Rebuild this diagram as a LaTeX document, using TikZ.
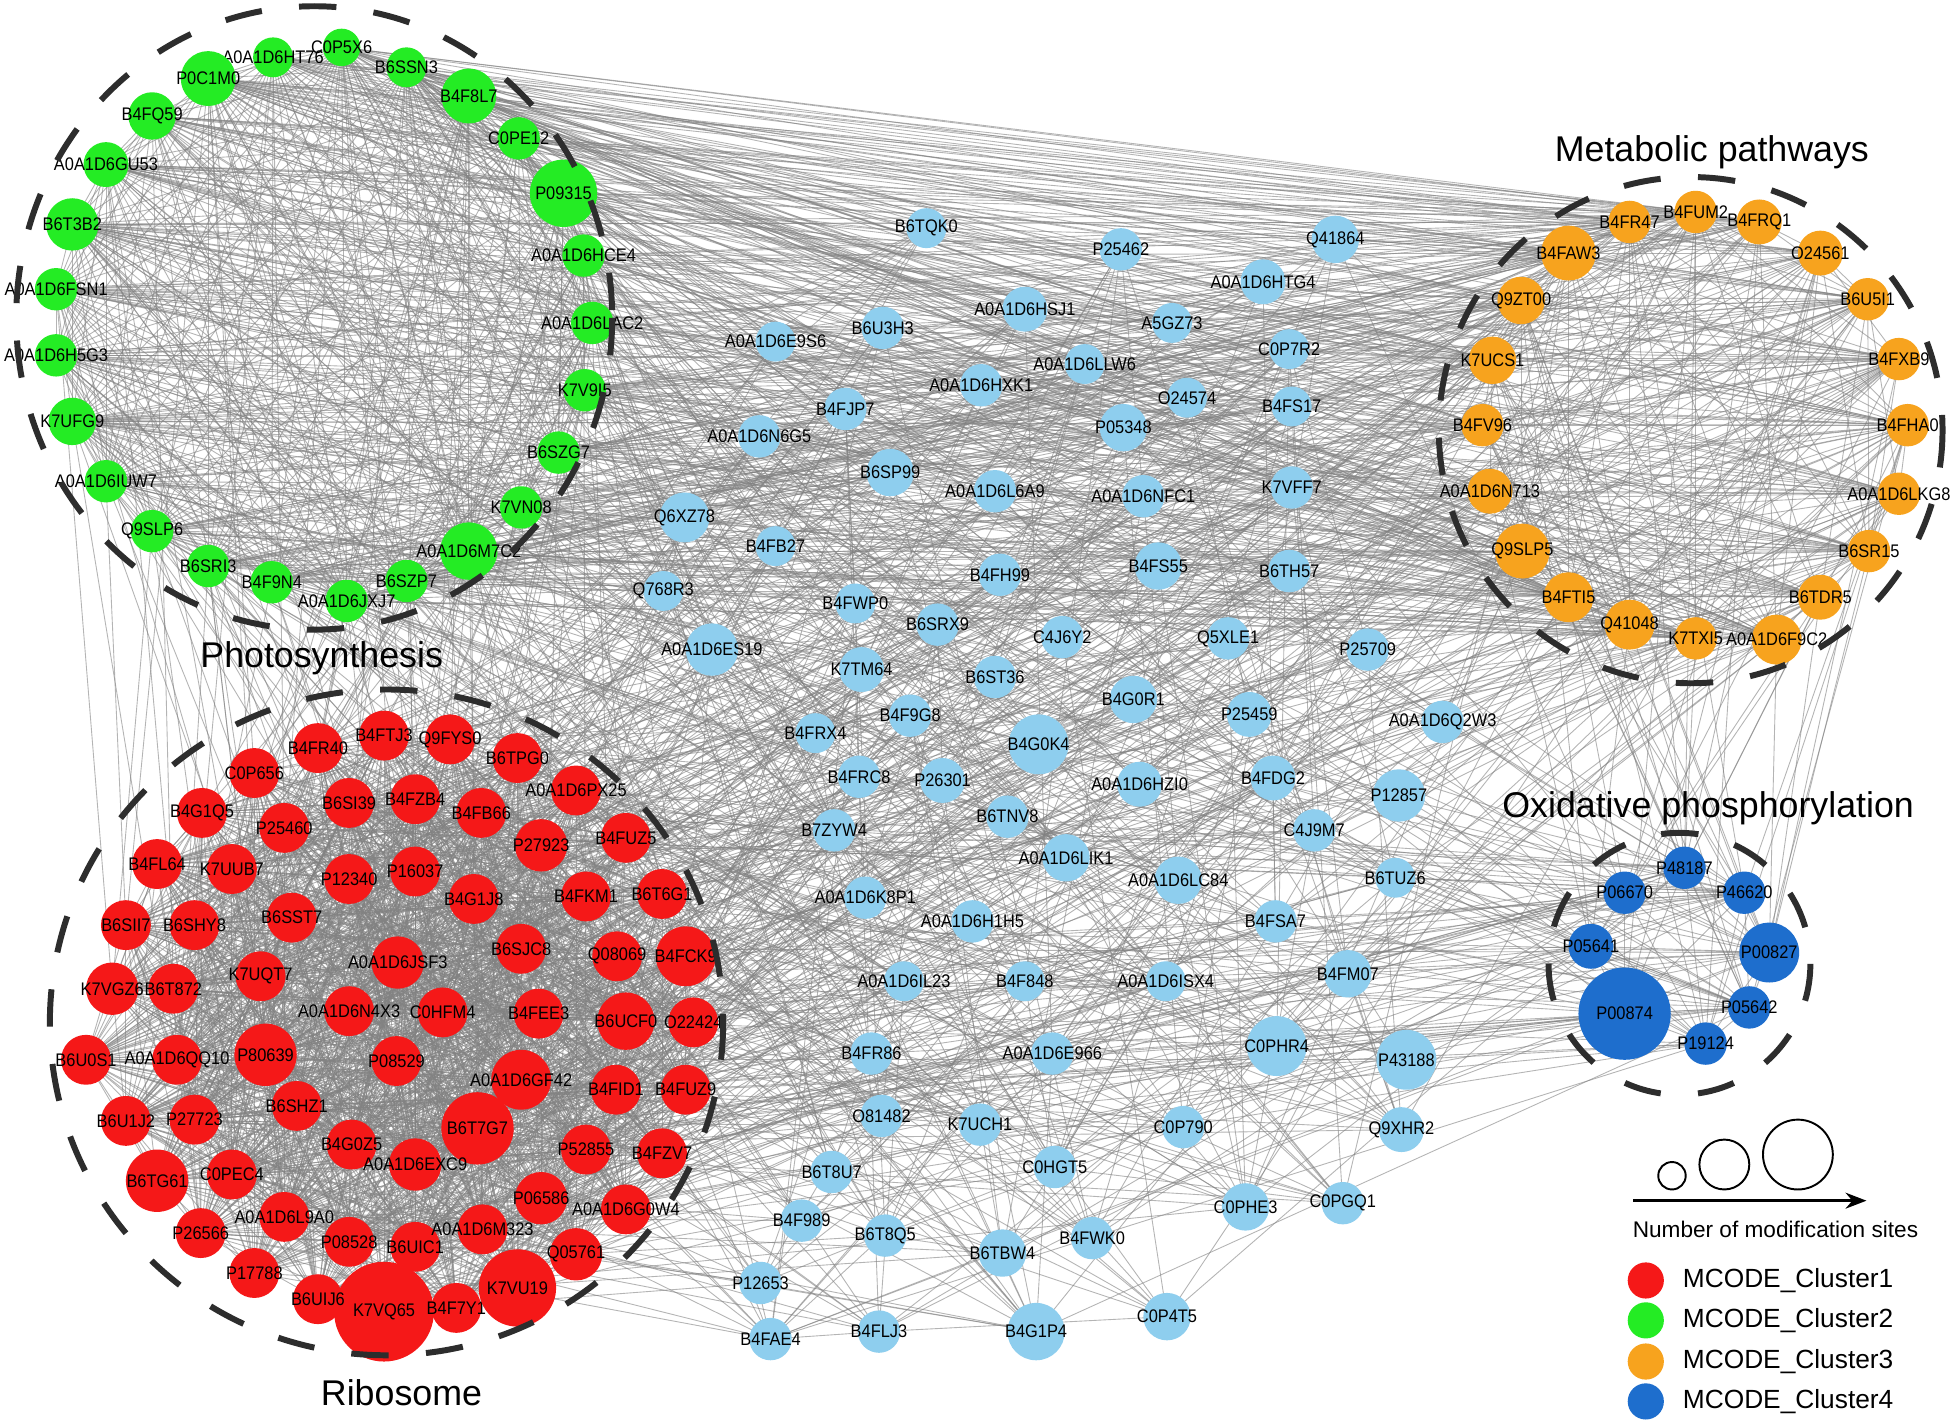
\documentclass[tikz,border=0pt]{standalone}
\usepackage{fontspec}
\setmainfont{Liberation Sans}
\newfontfamily\lblfont[FakeStretch=0.9]{Liberation Sans}
\usetikzlibrary{arrows.meta,backgrounds,positioning}
\definecolor{clred}{RGB}{245,24,24}
\definecolor{clgreen}{RGB}{36,236,36}
\definecolor{clorange}{RGB}{247,163,30}
\definecolor{clblue}{RGB}{30,110,205}
\definecolor{clsky}{RGB}{142,206,238}
\definecolor{ppigray}{RGB}{130,130,130}
\definecolor{ringgray}{RGB}{45,45,45}
\tikzset{%
	prot/.style      = {circle, inner sep=0pt, font=\lblfont\fontsize{10.4}{10.4}\selectfont,
	                    execute at begin node={\hbox to 0pt\bgroup\hss},
	                    execute at end node={\hss\egroup}}, % protein, label may overhang
	gnode/.style     = {prot, fill=clgreen, minimum size=#1*0.05cm}, % Cluster2
	gnode/.default   = 17,
	rnode/.style     = {prot, fill=clred, minimum size=#1*0.05cm}, % Cluster1
	rnode/.default   = 20,
	onode/.style     = {prot, fill=clorange, minimum size=#1*0.05cm}, % Cluster3
	onode/.default   = 18,
	bnode/.style     = {prot, fill=clblue, minimum size=#1*0.05cm}, % Cluster4
	bnode/.default   = 17,
	snode/.style     = {prot, fill=clsky, minimum size=#1*0.05cm}, % no cluster
	snode/.default   = 17,
}
\tikzset{%
	ppiedge/.style   = {draw=ppigray, line width=0.5pt, opacity=0.6},
	ring/.style      = {draw=ringgray, line width=3.4pt, dash pattern=on 0.75cm off 0.75cm},
	pathtitle/.style = {font=\fontsize{20.4}{22}\selectfont},
	sizecirc/.style  = {circle, draw=black, line width=1.1pt, inner sep=0pt, minimum size=#1*0.05cm},
	sizearrow/.style = {line width=1.4pt, -{Stealth[length=0.42cm, width=0.32cm]}},
	sizetext/.style  = {font=\fontsize{12.9}{14}\selectfont},
	legdot/.style    = {circle, inner sep=0pt, minimum size=1.45cm*0.5},
	legtext/.style   = {font=\fontsize{15}{17}\selectfont, anchor=west},
}
\newcommand\maybelink[3]{\pgfmathparse{rnd}\ifdim\pgfmathresult pt<#3pt\relax\draw[ppiedge] (#1.center) -- (#2.center);\fi}
\newcommand\linkwithin[2]{\foreach \a [count=\i] in #1 {\foreach \b [count=\j] in #1 {\ifnum\j>\i\relax\maybelink{\a}{\b}{#2}\fi}}}
\newcommand\linkbetween[3]{\foreach \a in #1 {\foreach \b in #2 {\maybelink{\a}{\b}{#3}}}}
\def\greenlist{C0P5X6,A0A1D6HT76,B6SSN3,P0C1M0,B4F8L7,B4FQ59,C0PE12,A0A1D6GU53,P09315,B6T3B2,A0A1D6HCE4,A0A1D6FSN1,A0A1D6LAC2,A0A1D6H5G3,K7V9I5,K7UFG9,B6SZG7,A0A1D6IUW7,K7VN08,Q9SLP6,A0A1D6M7C2,B6SRI3,B6SZP7,B4F9N4,A0A1D6JXJ7}
\def\redlist{B4FR40,B4FTJ3,Q9FYS0,B6TPG0,C0P656,A0A1D6PX25,B6SI39,B4FZB4,B4FB66,B4G1Q5,P25460,P27923,B4FUZ5,B4FL64,K7UUB7,P12340,P16037,B4G1J8,B4FKM1,B6T6G1,B6SII7,B6SHY8,B6SST7,B6SJC8,Q08069,B4FCK9,A0A1D6JSF3,K7VGZ6,B6T872,K7UQT7,A0A1D6N4X3,C0HFM4,B4FEE3,B6UCF0,O22424,B6U0S1,A0A1D6QQ10,P80639,P08529,A0A1D6GF42,B4FID1,B4FUZ9,B6U1J2,P27723,B6SHZ1,B6T7G7,B4G0Z5,A0A1D6EXC9,P52855,B4FZV7,B6TG61,C0PEC4,P06586,A0A1D6G0W4,A0A1D6L9A0,P26566,P08528,B6UIC1,A0A1D6M323,Q05761,P17788,B6UIJ6,K7VQ65,B4F7Y1,K7VU19}
\def\orangelist{B4FUM2,B4FR47,B4FRQ1,B4FAW3,O24561,Q9ZT00,B6U5I1,K7UCS1,B4FXB9,B4FV96,B4FHA0,A0A1D6N713,A0A1D6LKG8,Q9SLP5,B6SR15,B4FTI5,B6TDR5,Q41048,K7TXI5,A0A1D6F9C2}
\def\bluelist{P48187,P06670,P46620,P05641,P00827,P00874,P05642,P19124}
\def\midlist{B6TQK0,P25462,Q41864,A0A1D6HTG4,A0A1D6HSJ1,B6U3H3,A5GZ73,A0A1D6E9S6,C0P7R2,A0A1D6LLW6,A0A1D6HXK1,O24574,B4FS17,B4FJP7,P05348,A0A1D6N6G5,B6SP99,A0A1D6L6A9,A0A1D6NFC1,K7VFF7,Q6XZ78,B4FB27,B4FH99,B4FS55,B6TH57,Q768R3,B4FWP0,B6SRX9,C4J6Y2,Q5XLE1,P25709,A0A1D6ES19,K7TM64,B6ST36,B4G0R1,P25459,A0A1D6Q2W3,B4FRX4,B4F9G8,B4G0K4,B4FRC8,P26301,A0A1D6HZI0,B4FDG2,P12857,B6TNV8,B7ZYW4,C4J9M7,A0A1D6LIK1,A0A1D6LC84,B6TUZ6,A0A1D6K8P1,A0A1D6H1H5,B4FSA7,B4FM07,A0A1D6IL23,B4F848,A0A1D6ISX4,C0PHR4,P43188,B4FR86,A0A1D6E966,O81482,K7UCH1,C0P790,Q9XHR2,C0HGT5,B6T8U7,C0PHE3,C0PGQ1,B4F989,B6T8Q5,B4FWK0,B6TBW4,P12653,C0P4T5,B4FAE4,B4FLJ3,B4G1P4}

\begin{document}
\begin{tikzpicture}[x=0.025cm, y=-0.025cm]
	\useasboundingbox (0,0) rectangle (1568,1143);
	% Photosynthesis
	\node[gnode=15] (C0P5X6) at (274,38) {C0P5X6};
	\node[gnode=16] (A0A1D6HT76) at (219,46) {A0A1D6HT76};
	\node[gnode=16] (B6SSN3) at (326,54) {B6SSN3};
	\node[gnode=22] (P0C1M0) at (167,63) {P0C1M0};
	\node[gnode=22] (B4F8L7) at (376,77) {B4F8L7};
	\node[gnode=19] (B4FQ59) at (122,93) {B4FQ59};
	\node[gnode] (C0PE12) at (416,111) {C0PE12};
	\node[gnode=18] (A0A1D6GU53) at (85,132) {A0A1D6GU53};
	\node[gnode=27] (P09315) at (452,155) {P09315};
	\node[gnode=21] (B6T3B2) at (58,180) {B6T3B2};
	\node[gnode] (A0A1D6HCE4) at (468,205) {A0A1D6HCE4};
	\node[gnode] (A0A1D6FSN1) at (45,232) {A0A1D6FSN1};
	\node[gnode] (A0A1D6LAC2) at (475,259) {A0A1D6LAC2};
	\node[gnode] (A0A1D6H5G3) at (45,285) {A0A1D6H5G3};
	\node[gnode] (K7V9I5) at (469,313) {K7V9I5};
	\node[gnode=19] (K7UFG9) at (58,338) {K7UFG9};
	\node[gnode] (B6SZG7) at (448,363) {B6SZG7};
	\node[gnode] (A0A1D6IUW7) at (85,386) {A0A1D6IUW7};
	\node[gnode] (K7VN08) at (418,407) {K7VN08};
	\node[gnode] (Q9SLP6) at (122,426) {Q9SLP6};
	\node[gnode=23] (A0A1D6M7C2) at (376,442) {A0A1D6M7C2};
	\node[gnode] (B6SRI3) at (167,454) {B6SRI3};
	\node[gnode] (B6SZP7) at (326,466) {B6SZP7};
	\node[gnode] (B4F9N4) at (218,467) {B4F9N4};
	\node[gnode] (A0A1D6JXJ7) at (278,482) {A0A1D6JXJ7};
	
	% Ribosome
	\node[rnode] (B4FR40) at (255,600) {B4FR40};
	\node[rnode] (B4FTJ3) at (308,590) {B4FTJ3};
	\node[rnode] (Q9FYS0) at (361,593) {Q9FYS0};
	\node[rnode] (B6TPG0) at (415,608) {B6TPG0};
	\node[rnode] (C0P656) at (204,620) {C0P656};
	\node[rnode] (A0A1D6PX25) at (462,634) {A0A1D6PX25};
	\node[rnode] (B6SI39) at (280,644) {B6SI39};
	\node[rnode] (B4FZB4) at (333,641) {B4FZB4};
	\node[rnode] (B4FB66) at (386,652) {B4FB66};
	\node[rnode] (B4G1Q5) at (162,652) {B4G1Q5};
	\node[rnode] (P25460) at (228,664) {P25460};
	\node[rnode=21] (P27923) at (434,678) {P27923};
	\node[rnode] (B4FUZ5) at (502,672) {B4FUZ5};
	\node[rnode] (B4FL64) at (126,693) {B4FL64};
	\node[rnode] (K7UUB7) at (186,697) {K7UUB7};
	\node[rnode] (P12340) at (280,705) {P12340};
	\node[rnode] (P16037) at (333,699) {P16037};
	\node[rnode] (B4G1J8) at (380,721) {B4G1J8};
	\node[rnode] (B4FKM1) at (470,719) {B4FKM1};
	\node[rnode] (B6T6G1) at (531,717) {B6T6G1};
	\node[rnode] (B6SII7) at (101,742) {B6SII7};
	\node[rnode] (B6SHY8) at (156,742) {B6SHY8};
	\node[rnode] (B6SST7) at (234,736) {B6SST7};
	\node[rnode] (B6SJC8) at (418,761) {B6SJC8};
	\node[rnode] (Q08069) at (495,767) {Q08069};
	\node[rnode=24] (B4FCK9) at (550,767) {B4FCK9};
	\node[rnode=21] (A0A1D6JSF3) at (319,772) {A0A1D6JSF3};
	\node[rnode=21] (K7VGZ6) at (90,793) {K7VGZ6};
	\node[rnode] (B6T872) at (139,793) {B6T872};
	\node[rnode] (K7UQT7) at (209,783) {K7UQT7};
	\node[rnode] (A0A1D6N4X3) at (280,811) {A0A1D6N4X3};
	\node[rnode] (C0HFM4) at (355,812) {C0HFM4};
	\node[rnode] (B4FEE3) at (432,813) {B4FEE3};
	\node[rnode=23] (B6UCF0) at (502,819) {B6UCF0};
	\node[rnode] (O22424) at (556,820) {O22424};
	\node[rnode] (B6U0S1) at (69,850) {B6U0S1};
	\node[rnode] (A0A1D6QQ10) at (142,850) {A0A1D6QQ10};
	\node[rnode=25] (P80639) at (213,846) {P80639};
	\node[rnode] (P08529) at (318,851) {P08529};
	\node[rnode=24] (A0A1D6GF42) at (418,866) {A0A1D6GF42};
	\node[rnode] (B4FID1) at (494,874) {B4FID1};
	\node[rnode] (B4FUZ9) at (550,874) {B4FUZ9};
	\node[rnode] (B6U1J2) at (101,899) {B6U1J2};
	\node[rnode] (P27723) at (156,898) {P27723};
	\node[rnode] (B6SHZ1) at (238,887) {B6SHZ1};
	\node[rnode=29] (B6T7G7) at (383,905) {B6T7G7};
	\node[rnode] (B4G0Z5) at (282,918) {B4G0Z5};
	\node[rnode=21] (A0A1D6EXC9) at (333,934) {A0A1D6EXC9};
	\node[rnode] (P52855) at (470,922) {P52855};
	\node[rnode] (B4FZV7) at (531,925) {B4FZV7};
	\node[rnode=25] (B6TG61) at (126,947) {B6TG61};
	\node[rnode] (C0PEC4) at (186,942) {C0PEC4};
	\node[rnode=21] (P06586) at (434,961) {P06586};
	\node[rnode] (A0A1D6G0W4) at (502,970) {A0A1D6G0W4};
	\node[rnode] (A0A1D6L9A0) at (228,976) {A0A1D6L9A0};
	\node[rnode] (P26566) at (161,989) {P26566};
	\node[rnode] (P08528) at (280,996) {P08528};
	\node[rnode] (B6UIC1) at (333,1000) {B6UIC1};
	\node[rnode] (A0A1D6M323) at (387,986) {A0A1D6M323};
	\node[rnode=21] (Q05761) at (462,1006) {Q05761};
	\node[rnode] (P17788) at (204,1021) {P17788};
	\node[rnode=40] (K7VQ65) at (308,1052) {K7VQ65};
	\node[rnode] (B6UIJ6) at (255,1042) {B6UIJ6};
	\node[rnode] (B4F7Y1) at (366,1049) {B4F7Y1};
	\node[rnode=31] (K7VU19) at (415,1033) {K7VU19};
	
	% Metabolic pathways
	\node[onode=17] (B4FUM2) at (1360,170) {B4FUM2};
	\node[onode=17] (B4FR47) at (1307,178) {B4FR47};
	\node[onode] (B4FRQ1) at (1411,178) {B4FRQ1};
	\node[onode=22] (B4FAW3) at (1258,203) {B4FAW3};
	\node[onode] (O24561) at (1460,203) {O24561};
	\node[onode=19] (Q9ZT00) at (1220,241) {Q9ZT00};
	\node[onode=17] (B6U5I1) at (1498,240) {B6U5I1};
	\node[onode=19] (K7UCS1) at (1197,289) {K7UCS1};
	\node[onode=17] (B4FXB9) at (1523,288) {B4FXB9};
	\node[onode=17] (B4FV96) at (1189,341) {B4FV96};
	\node[onode=17] (B4FHA0) at (1530,341) {B4FHA0};
	\node[onode] (A0A1D6N713) at (1195,394) {A0A1D6N713};
	\node[onode=17] (A0A1D6LKG8) at (1523,396) {A0A1D6LKG8};
	\node[onode=22] (Q9SLP5) at (1221,442) {Q9SLP5};
	\node[onode=17] (B6SR15) at (1499,442) {B6SR15};
	\node[onode=20] (B4FTI5) at (1258,479) {B4FTI5};
	\node[onode] (B6TDR5) at (1460,479) {B6TDR5};
	\node[onode=20] (Q41048) at (1307,501) {Q41048};
	\node[onode=17] (K7TXI5) at (1360,512) {K7TXI5};
	\node[onode=20] (A0A1D6F9C2) at (1425,513) {A0A1D6F9C2};
	
	% Oxidative phosphorylation
	\node[bnode] (P48187) at (1351,696) {P48187};
	\node[bnode] (P06670) at (1303,716) {P06670};
	\node[bnode] (P46620) at (1399,716) {P46620};
	\node[bnode=18] (P05641) at (1276,759) {P05641};
	\node[bnode=24] (P00827) at (1419,764) {P00827};
	\node[bnode=37] (P00874) at (1303,813) {P00874};
	\node[bnode] (P05642) at (1403,808) {P05642};
	\node[bnode] (P19124) at (1368,837) {P19124};
	
	% other proteins
	\node[snode=16] (B6TQK0) at (743,183) {B6TQK0};
	\node[snode] (P25462) at (899,200) {P25462};
	\node[snode=19] (Q41864) at (1071,192) {Q41864};
	\node[snode=18] (A0A1D6HTG4) at (1013,226) {A0A1D6HTG4};
	\node[snode=18] (A0A1D6HSJ1) at (822,248) {A0A1D6HSJ1};
	\node[snode] (B6U3H3) at (708,263) {B6U3H3};
	\node[snode=16] (A5GZ73) at (940,259) {A5GZ73};
	\node[snode=16] (A0A1D6E9S6) at (622,274) {A0A1D6E9S6};
	\node[snode=16] (C0P7R2) at (1034,280) {C0P7R2};
	\node[snode=16] (A0A1D6LLW6) at (870,292) {A0A1D6LLW6};
	\node[snode] (A0A1D6HXK1) at (787,309) {A0A1D6HXK1};
	\node[snode=16] (O24574) at (952,319) {O24574};
	\node[snode=16] (B4FS17) at (1036,326) {B4FS17};
	\node[snode] (B4FJP7) at (678,328) {B4FJP7};
	\node[snode=19] (P05348) at (901,343) {P05348};
	\node[snode] (A0A1D6N6G5) at (609,350) {A0A1D6N6G5};
	\node[snode=19] (B6SP99) at (714,379) {B6SP99};
	\node[snode] (A0A1D6L6A9) at (798,394) {A0A1D6L6A9};
	\node[snode] (A0A1D6NFC1) at (917,398) {A0A1D6NFC1};
	\node[snode] (K7VFF7) at (1036,391) {K7VFF7};
	\node[snode=20] (Q6XZ78) at (549,415) {Q6XZ78};
	\node[snode=16] (B4FB27) at (622,438) {B4FB27};
	\node[snode] (B4FH99) at (802,461) {B4FH99};
	\node[snode=19] (B4FS55) at (929,454) {B4FS55};
	\node[snode] (B6TH57) at (1034,458) {B6TH57};
	\node[snode=16] (Q768R3) at (532,474) {Q768R3};
	\node[snode=16] (B4FWP0) at (686,484) {B4FWP0};
	\node[snode] (B6SRX9) at (752,501) {B6SRX9};
	\node[snode] (C4J6Y2) at (852,511) {C4J6Y2};
	\node[snode] (Q5XLE1) at (985,512) {Q5XLE1};
	\node[snode] (P25709) at (1097,521) {P25709};
	\node[snode=21] (A0A1D6ES19) at (571,521) {A0A1D6ES19};
	\node[snode=18] (K7TM64) at (691,537) {K7TM64};
	\node[snode] (B6ST36) at (798,543) {B6ST36};
	\node[snode=19] (B4G0R1) at (909,561) {B4G0R1};
	\node[snode=18] (P25459) at (1002,573) {P25459};
	\node[snode] (A0A1D6Q2W3) at (1157,579) {A0A1D6Q2W3};
	\node[snode=16] (B4FRX4) at (654,588) {B4FRX4};
	\node[snode] (B4F9G8) at (730,574) {B4F9G8};
	\node[snode=24] (B4G0K4) at (833,597) {B4G0K4};
	\node[snode] (B4FRC8) at (689,623) {B4FRC8};
	\node[snode=18] (P26301) at (756,626) {P26301};
	\node[snode=18] (A0A1D6HZI0) at (914,629) {A0A1D6HZI0};
	\node[snode=18] (B4FDG2) at (1021,624) {B4FDG2};
	\node[snode=21] (P12857) at (1122,638) {P12857};
	\node[snode] (B6TNV8) at (808,655) {B6TNV8};
	\node[snode] (B7ZYW4) at (669,666) {B7ZYW4};
	\node[snode] (C4J9M7) at (1054,666) {C4J9M7};
	\node[snode=19] (A0A1D6LIK1) at (855,688) {A0A1D6LIK1};
	\node[snode=19] (A0A1D6LC84) at (945,706) {A0A1D6LC84};
	\node[snode=16] (B6TUZ6) at (1119,704) {B6TUZ6};
	\node[snode] (A0A1D6K8P1) at (694,720) {A0A1D6K8P1};
	\node[snode] (A0A1D6H1H5) at (780,739) {A0A1D6H1H5};
	\node[snode] (B4FSA7) at (1023,739) {B4FSA7};
	\node[snode=19] (B4FM07) at (1081,781) {B4FM07};
	\node[snode=16] (A0A1D6IL23) at (725,787) {A0A1D6IL23};
	\node[snode=16] (B4F848) at (822,787) {B4F848};
	\node[snode=16] (A0A1D6ISX4) at (935,787) {A0A1D6ISX4};
	\node[snode=24] (C0PHR4) at (1024,839) {C0PHR4};
	\node[snode=24] (P43188) at (1128,850) {P43188};
	\node[snode] (B4FR86) at (699,845) {B4FR86};
	\node[snode] (A0A1D6E966) at (844,845) {A0A1D6E966};
	\node[snode] (O81482) at (707,895) {O81482};
	\node[snode] (K7UCH1) at (786,902) {K7UCH1};
	\node[snode] (C0P790) at (949,904) {C0P790};
	\node[snode=18] (Q9XHR2) at (1124,906) {Q9XHR2};
	\node[snode] (C0HGT5) at (846,936) {C0HGT5};
	\node[snode] (B6T8U7) at (667,940) {B6T8U7};
	\node[snode=19] (C0PHE3) at (999,968) {C0PHE3};
	\node[snode] (C0PGQ1) at (1077,965) {C0PGQ1};
	\node[snode] (B4F989) at (643,979) {B4F989};
	\node[snode] (B6T8Q5) at (710,991) {B6T8Q5};
	\node[snode] (B4FWK0) at (876,993) {B4FWK0};
	\node[snode=19] (B6TBW4) at (804,1005) {B6TBW4};
	\node[snode] (P12653) at (610,1029) {P12653};
	\node[snode=19] (C0P4T5) at (936,1056) {C0P4T5};
	\node[snode] (B4FAE4) at (618,1074) {B4FAE4};
	\node[snode] (B4FLJ3) at (705,1068) {B4FLJ3};
	\node[snode=23] (B4G1P4) at (831,1068) {B4G1P4};
	
	% cluster rings and titles
	\draw[ring] (252,255) ellipse [x radius=239, y radius=250];
	\draw[ring] (310,820) ellipse [x radius=270, y radius=267];
	\draw[ring] (1356,345) ellipse [x radius=202, y radius=203];
	\draw[ring] (1347,773) ellipse [x radius=105, y radius=105];
	\node[pathtitle] (tphoto) at (258,528) {Photosynthesis};
	\node[pathtitle] (tribo) at (322,1117) {Ribosome};
	\node[pathtitle] (tmeta) at (1373,122) {Metabolic pathways};
	\node[pathtitle] (toxi) at (1370,648) {Oxidative phosphorylation};
	
	% legend
	\node[sizecirc=11] (sz1) at (1341,943) {};
	\node[sizecirc=20] (sz2) at (1383,934) {};
	\node[sizecirc=28] (sz3) at (1442,926) {};
	\coordinate (arrtail) at (1310,963);
	\coordinate (arrhead) at (1497,963);
	\draw[sizearrow] (arrtail) -- (arrhead);
	\node[sizetext] (szlabel) at (1424,986) {Number of modification sites};
	\node[legdot, fill=clred] (lg1) at (1320,1027) {};
	\node[legdot, fill=clgreen] (lg2) at (1320,1059) {};
	\node[legdot, fill=clorange] (lg3) at (1320,1092) {};
	\node[legdot, fill=clblue] (lg4) at (1320,1124) {};
	\node[legtext, right=0.25cm of lg1] (lt1) {MCODE\_Cluster1};
	\node[legtext, right=0.25cm of lg2] (lt2) {MCODE\_Cluster2};
	\node[legtext, right=0.25cm of lg3] (lt3) {MCODE\_Cluster3};
	\node[legtext, right=0.25cm of lg4] (lt4) {MCODE\_Cluster4};
	
	% interactions
	\begin{scope}[on background layer]
		\fill[white] (0,0) rectangle (1568,1143);
		\pgfmathsetseed{1955}
		\linkwithin{\greenlist}{0.85}
		\linkwithin{\redlist}{0.65}
		\linkwithin{\orangelist}{0.6}
		\linkwithin{\bluelist}{1}
		\linkwithin{\midlist}{0.04}
		\linkbetween{\greenlist}{\orangelist}{0.55}
		\linkbetween{\greenlist}{\midlist}{0.12}
		\linkbetween{\greenlist}{\redlist}{0.06}
		\linkbetween{\greenlist}{\bluelist}{0.06}
		\linkbetween{\redlist}{\midlist}{0.07}
		\linkbetween{\redlist}{\orangelist}{0.08}
		\linkbetween{\redlist}{\bluelist}{0.12}
		\linkbetween{\midlist}{\orangelist}{0.07}
		\linkbetween{\midlist}{\bluelist}{0.06}
		\linkbetween{\orangelist}{\bluelist}{0.2}
	\end{scope}
\end{tikzpicture}
\end{document}
